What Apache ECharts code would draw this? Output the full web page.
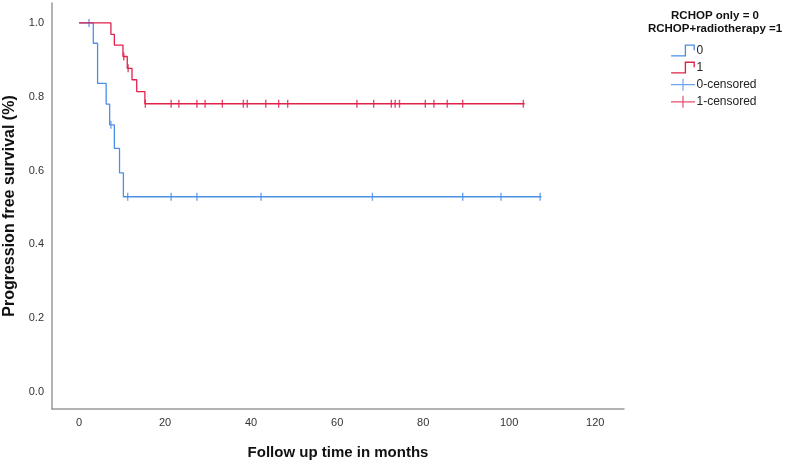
<!DOCTYPE html>
<html>
<head>
<meta charset="utf-8">
<script src="https://cdn.jsdelivr.net/npm/echarts@6/dist/echarts.min.js"></script>
<style>html,body{margin:0;padding:0;background:#fff}#c{width:787px;height:463px}</style>
</head>
<body>
<div id="c"></div>
<script>
// Group 0 (RCHOP only): event times and survival after each step
var blueTimes = [0, 3.3, 4.3, 6.3, 7.1, 8.2, 9.4, 10.3, 107.5];
var blueSurv  = [1.0, 0.945, 0.836, 0.780, 0.724, 0.660, 0.594, 0.529, 0.529];
var blueCensorTimes = [2.3, 7.4, 11.3, 21.4, 27.4, 42.3, 68.2, 89.2, 98.1, 107.2];
var blueCensorSurv  = [1.0, 0.724, 0.529, 0.529, 0.529, 0.529, 0.529, 0.529, 0.529, 0.529];

// Group 1 (RCHOP + radiotherapy)
var redTimes = [0, 7.4, 8.2, 10.2, 11.2, 12.3, 13.4, 15.3, 103.6];
var redSurv  = [1.0, 0.969, 0.940, 0.909, 0.877, 0.846, 0.814, 0.781, 0.781];
var redCensorTimes = [10.4, 11.4, 15.4, 21.4, 23.2, 27.4, 29.3, 33.3, 38.2, 39.1, 43.4, 46.4, 48.5, 64.6, 68.5, 72.6, 73.5, 74.5, 80.5, 82.5, 85.6, 89.2, 103.3];
var redCensorSurv  = [0.909, 0.877, 0.781, 0.781, 0.781, 0.781, 0.781, 0.781, 0.781, 0.781, 0.781, 0.781, 0.781, 0.781, 0.781, 0.781, 0.781, 0.781, 0.781, 0.781, 0.781, 0.781, 0.781];

var xTicks = [0, 20, 40, 60, 80, 100, 120];
var yTicks = [0, 0.2, 0.4, 0.6, 0.8, 1.0];
var legendNames = ['0', '1', '0-censored', '1-censored'];

var BLUE = '#4a8fe7', RED = '#e0224a';

function zip(a, b) { return a.map(function (v, i) { return [v, b[i]]; }); }

var stepIcon = 'path://M0,10.4 L12,10.4 L12,1 L21,1 L21,6 L19.8,6 L19.8,2.2 L13.2,2.2 L13.2,11.6 L0,11.6 Z';
var crossIcon = 'path://M0,5.4 L24,5.4 L24,6.6 L0,6.6 Z M11.4,0 L12.6,0 L12.6,12 L11.4,12 Z';

var chart = echarts.init(document.getElementById('c'), null, {renderer: 'canvas'});
chart.setOption({
  animation: false,
  backgroundColor: '#fff',
  title: {
    text: 'RCHOP only = 0\nRCHOP+radiotherapy =1',
    left: 715, top: 9, textAlign: 'center', padding: 0,
    textStyle: {fontFamily: 'Liberation Sans', fontSize: 11.5, fontWeight: 'bold', color: '#111', lineHeight: 13}
  },
  legend: {
    orient: 'vertical', left: 671, top: 44.5, padding: 0,
    itemWidth: 25, itemHeight: 12, itemGap: 5.1,
    textStyle: {fontFamily: 'Liberation Sans', fontSize: 12, color: '#222', padding: [0, 0, 0, -4]},
    data: [
      {name: legendNames[0], icon: stepIcon, itemStyle: {color: BLUE}},
      {name: legendNames[1], icon: stepIcon, itemStyle: {color: RED}},
      {name: legendNames[2], icon: crossIcon, itemStyle: {color: BLUE}},
      {name: legendNames[3], icon: crossIcon, itemStyle: {color: RED}}
    ]
  },
  grid: {left: 52, right: 163, top: 3, bottom: 54, containLabel: false, outerBoundsMode: 'none'},
  xAxis: {
    type: 'value', min: -6.3, max: 126.7,
    name: 'Follow up time in months', nameLocation: 'middle', nameGap: 36,
    nameTextStyle: {fontFamily: 'Liberation Sans', fontSize: 15, fontWeight: 'bold', color: '#111'},
    axisLine: {show: true, onZero: false, lineStyle: {color: '#999', width: 1.5}},
    axisTick: {show: false},
    splitLine: {show: false},
    axisLabel: {customValues: xTicks, margin: 8, fontFamily: 'Liberation Sans', fontSize: 11, color: '#333',
      formatter: function (v) { return String(v); }}
  },
  yAxis: {
    type: 'value', min: -0.046, max: 1.054,
    name: 'Progression free survival (%)', nameLocation: 'middle', nameGap: 29, nameRotate: 90,
    nameTextStyle: {fontFamily: 'Liberation Sans', fontSize: 16, fontWeight: 'bold', color: '#111'},
    axisLine: {show: true, onZero: false, lineStyle: {color: '#999', width: 1.5}},
    axisTick: {show: false},
    splitLine: {show: false},
    axisLabel: {customValues: yTicks, margin: 8, fontFamily: 'Liberation Sans', fontSize: 11, color: '#333',
      formatter: function (v) { return v.toFixed(1); }}
  },
  series: [
    {name: legendNames[0], type: 'line', step: 'end', data: zip(blueTimes, blueSurv), showSymbol: false,
      lineStyle: {color: BLUE, width: 1.3}, itemStyle: {color: BLUE}},
    {name: legendNames[1], type: 'line', step: 'end', data: zip(redTimes, redSurv), showSymbol: false,
      lineStyle: {color: RED, width: 1.3}, itemStyle: {color: RED}},
    {name: legendNames[2], type: 'scatter', data: zip(blueCensorTimes, blueCensorSurv),
      symbol: 'rect', symbolSize: [1.4, 8], itemStyle: {color: BLUE}},
    {name: legendNames[3], type: 'scatter', data: zip(redCensorTimes, redCensorSurv),
      symbol: 'rect', symbolSize: [1.4, 8], itemStyle: {color: RED}}
  ]
});
</script>
</body>
</html>
